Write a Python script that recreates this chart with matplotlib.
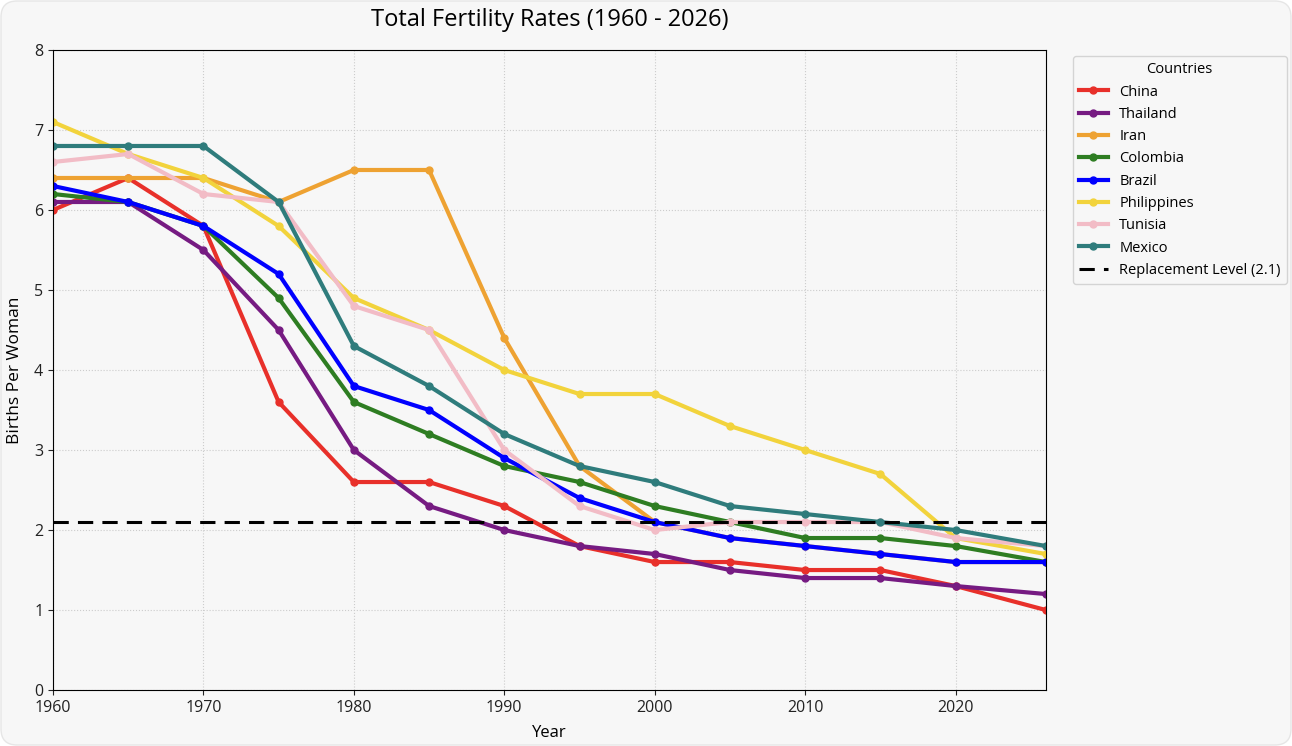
import matplotlib.pyplot as plt
from matplotlib.patches import FancyBboxPatch

plt.rcParams["font.family"] = ["Open Sans", "DejaVu Sans"]

years = [1960, 1965, 1970, 1975, 1980, 1985, 1990, 1995, 2000, 2005, 2010, 2015, 2020, 2026]

china = [6.0, 6.4, 5.8, 3.6, 2.6, 2.6, 2.3, 1.8, 1.6, 1.6, 1.5, 1.5, 1.3, 1.0]
thailand = [6.1, 6.1, 5.5, 4.5, 3.0, 2.3, 2.0, 1.8, 1.7, 1.5, 1.4, 1.4, 1.3, 1.2]
iran = [6.4, 6.4, 6.4, 6.1, 6.5, 6.5, 4.4, 2.8, 2.1, 1.9, 1.8, 1.7, 1.6, 1.6]
colombia = [6.2, 6.1, 5.8, 4.9, 3.6, 3.2, 2.8, 2.6, 2.3, 2.1, 1.9, 1.9, 1.8, 1.6]
brazil = [6.3, 6.1, 5.8, 5.2, 3.8, 3.5, 2.9, 2.4, 2.1, 1.9, 1.8, 1.7, 1.6, 1.6]
philippines = [7.1, 6.7, 6.4, 5.8, 4.9, 4.5, 4.0, 3.7, 3.7, 3.3, 3.0, 2.7, 1.9, 1.7]
tunisia = [6.6, 6.7, 6.2, 6.1, 4.8, 4.5, 3.0, 2.3, 2.0, 2.1, 2.1, 2.1, 1.9, 1.8]
mexico = [6.8, 6.8, 6.8, 6.1, 4.3, 3.8, 3.2, 2.8, 2.6, 2.3, 2.2, 2.1, 2.0, 1.8]

series = [
    ("China", china, "#e8302a"),
    ("Thailand", thailand, "#761b82"),
    ("Iran", iran, "#eea232"),
    ("Colombia", colombia, "#2e7d22"),
    ("Brazil", brazil, "#0000ff"),
    ("Philippines", philippines, "#f2d33c"),
    ("Tunisia", tunisia, "#f2bcc6"),
    ("Mexico", mexico, "#2f7c7c"),
]
replacement = 2.1

bg = "#f7f7f7"
fig = plt.figure(figsize=(12.92, 7.46), dpi=100, facecolor="white")
# rounded card behind the chart
card = FancyBboxPatch((1, 1), 1290, 744, boxstyle="round,pad=0,rounding_size=16",
                      facecolor=bg, edgecolor="#e6e6e6", linewidth=1, transform=None,
                      zorder=-10)
fig.patches.append(card)

ax = fig.add_axes([0.041, 0.075, 0.7685, 0.858], facecolor=bg)

for name, vals, col in series:
    ax.plot(years, vals, color=col, linewidth=3, marker="o", markersize=5, label=name)
ax.axhline(replacement, color="black", linestyle="--", linewidth=2.2, dashes=(5, 3),
           label="Replacement Level (2.1)", zorder=5)

ax.set_xlim(1960, 2026)
ax.set_ylim(0, 8)
ax.set_xticks(range(1960, 2021, 10))
ax.set_yticks(range(0, 9))
ax.tick_params(labelsize=11.5, colors="#222222")
ax.grid(True, linestyle=":", color="#cccccc", linewidth=0.8)
ax.set_xlabel("Year", fontsize=12, labelpad=7)
ax.set_ylabel("Births Per Woman", fontsize=12.5, labelpad=8)
ax.set_title("Total Fertility Rates (1960 - 2026)", fontsize=17, pad=17)

leg = ax.legend(title="Countries", loc="upper left", bbox_to_anchor=(1.027, 0.99),
                fontsize=10.5, title_fontsize=10.5, facecolor=bg, edgecolor="#cccccc",
                borderaxespad=0, labelspacing=0.5)

plt.savefig("out.png", dpi=100, facecolor="white")
